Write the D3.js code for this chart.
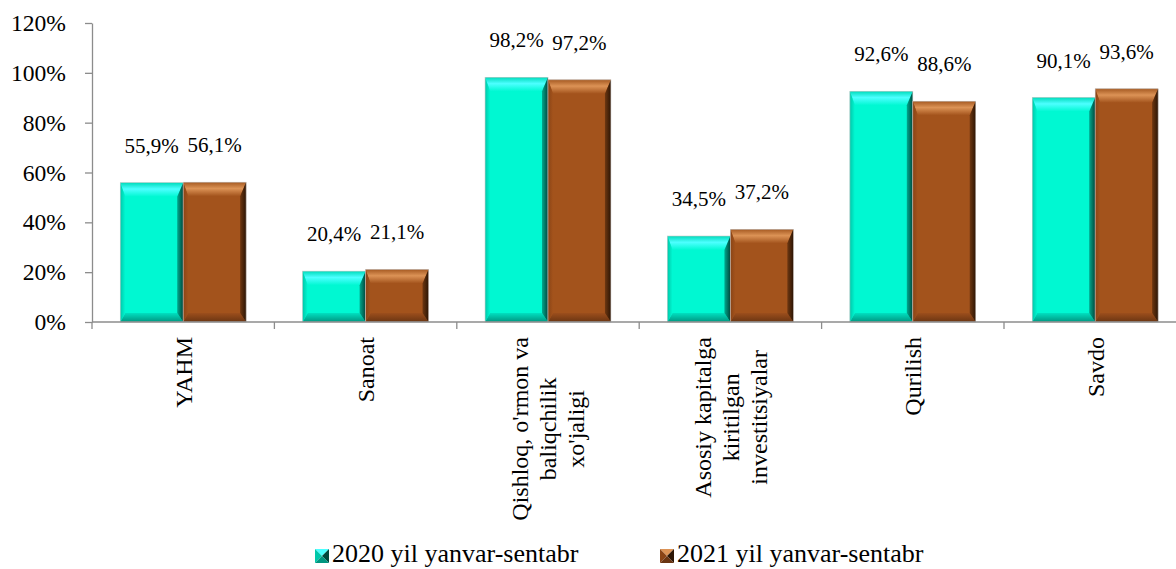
<!DOCTYPE html>
<html>
<head>
<meta charset="utf-8">
<script src="https://d3js.org/d3.v7.min.js"></script>
</head>
<body style="margin:0">
<svg id="chart" width="1176" height="569" font-family="Liberation Serif"></svg>
<script>
// data
var categories = ["YAHM", "Sanoat", "Qishloq, o'rmon va|baliqchilik|xo'jaligi",
                  "Asosiy kapitalga|kiritilgan|investitsiyalar", "Qurilish", "Savdo"];
var series = ["2020 yil yanvar-sentabr", "2021 yil yanvar-sentabr"];
var values2020 = [55.9, 20.4, 98.2, 34.5, 92.6, 90.1];
var values2021 = [56.1, 21.1, 97.2, 37.2, 88.6, 93.6];
var yTicks = [0, 20, 40, 60, 80, 100, 120];

// colours per series
var palettes = [
  {face: "#00f8d2", edge: "#00dcbc", hi: "#4dffff", left: "#00c8aa", right1: "#00a88e", right2: "#00483c", bot1: "#00e0c0", bot2: "#009680"},
  {face: "#a3531c", edge: "#a65a22", hi: "#dc9356", left: "#8a4416", right1: "#6e3711", right2: "#2c1504", bot1: "#9c4e1c", bot2: "#6a3512"}
];

var svg = d3.select("#chart");
var axisX0 = 92, axisY0 = 322, axisTop = 23, catW = 182.4;

var y = d3.scaleLinear().domain([0, 120]).range([axisY0, axisTop]);
var x0 = d3.scaleBand().domain(d3.range(categories.length))
  .range([axisX0, axisX0 + catW * categories.length]);
var x1 = d3.scaleBand().domain(d3.range(series.length))
  .range([x0.bandwidth() * 0.155, x0.bandwidth() * 0.845]);

var defs = svg.append("defs");
function grad(id, horiz, stops) {
  var g = defs.append("linearGradient").attr("id", id)
    .attr("x1", 0).attr("y1", 0).attr("x2", horiz ? 1 : 0).attr("y2", horiz ? 0 : 1);
  stops.forEach(function(s) { g.append("stop").attr("offset", s[0]).attr("stop-color", s[1]); });
}
palettes.forEach(function(p, i) {
  grad("top" + i, false, [["0%", p.edge], ["45%", p.hi], ["100%", p.face]]);
  grad("bot" + i, false, [["0%", p.bot1], ["100%", p.bot2]]);
  grad("left" + i, true, [["0%", p.left], ["100%", p.face]]);
  grad("right" + i, true, [["0%", p.right1], ["100%", p.right2]]);
});

// y axis
var yAxis = d3.axisLeft(y).tickValues(yTicks).tickFormat(function(d) { return d + "%"; })
  .tickSize(7).tickSizeOuter(0).tickPadding(19);
var ya = svg.append("g").attr("transform", "translate(" + axisX0 + ",0)").call(yAxis);
ya.attr("font-family", "Liberation Serif").attr("font-size", 23.6);
ya.selectAll("path, line").attr("stroke", "#8c8c8c").attr("stroke-width", 1.3);
ya.selectAll("text").attr("fill", "#000");

// bars
var rows = [values2020, values2021];
var bars = svg.append("g");
categories.forEach(function(c, ci) {
  rows.forEach(function(vals, si) {
    var p = palettes[si];
    var bx = x0(ci) + x1(si), bw = x1.bandwidth();
    var by = y(vals[ci]), bh = axisY0 - by;
    var t = 14, b = 9, l = 5, r = 6;
    var g = bars.append("g");
    var pts = function(a) { return a.map(function(q) { return q.join(","); }).join(" "); };
    var o = [[bx, by], [bx + bw, by], [bx + bw, by + bh], [bx, by + bh]];
    var n = [[bx + l, by + t], [bx + bw - r, by + t], [bx + bw - r, by + bh - b], [bx + l, by + bh - b]];
    g.append("rect").attr("x", bx).attr("y", by).attr("width", bw).attr("height", bh).attr("fill", p.face);
    g.append("polygon").attr("points", pts([o[0], o[1], n[1], n[0]])).attr("fill", "url(#top" + si + ")");
    g.append("polygon").attr("points", pts([o[3], n[3], n[2], o[2]])).attr("fill", "url(#bot" + si + ")");
    g.append("polygon").attr("points", pts([o[0], n[0], n[3], o[3]])).attr("fill", "url(#left" + si + ")");
    g.append("polygon").attr("points", pts([o[1], o[2], n[2], n[1]])).attr("fill", "url(#right" + si + ")");
    g.append("rect").attr("x", bx).attr("y", by).attr("width", bw).attr("height", bh)
      .attr("fill", "none").attr("stroke", "#c4c4c4").attr("stroke-width", 0.6);

    svg.append("text")
      .attr("x", bx + bw / 2).attr("y", by - 30)
      .attr("text-anchor", "middle")
      .attr("font-family", "Liberation Serif")
      .attr("font-size", 21)
      .text(vals[ci].toFixed(1).replace(".", ",") + "%");
  });
});

// x axis
var xg = svg.append("g");
xg.append("line").attr("x1", axisX0).attr("x2", 1176).attr("y1", axisY0).attr("y2", axisY0)
  .attr("stroke", "#8c8c8c").attr("stroke-width", 1.3);
d3.range(categories.length + 1).forEach(function(i) {
  var tx = axisX0 + i * x0.bandwidth();
  xg.append("line").attr("x1", tx).attr("x2", tx).attr("y1", axisY0).attr("y2", axisY0 + 7)
    .attr("stroke", "#8c8c8c").attr("stroke-width", 1.3);
});

// category labels, rotated
categories.forEach(function(c, ci) {
  var lines = c.split("|");
  var cx = x0(ci) + x0.bandwidth() / 2;
  var g = xg.append("g").attr("transform", "translate(" + cx + "," + (axisY0 + 15) + ") rotate(-90)");
  var texts = lines.map(function(s, li) {
    return g.append("text")
      .attr("y", (li - (lines.length - 1) / 2) * 28)
      .attr("dy", "0.35em")
      .attr("text-anchor", "middle")
      .attr("font-family", "Liberation Serif")
      .attr("font-size", 24)
      .text(s);
  });
  var maxW = d3.max(texts, function(t) { return t.node().getComputedTextLength(); });
  texts.forEach(function(t) { t.attr("x", -maxW / 2); });
});

// legend
var legX = [315, 660];
series.forEach(function(s, si) {
  var p = palettes[si];
  var lx = legX[si], ly = 549, sz = 14, c = [lx + sz / 2, ly + sz / 2];
  var lg = svg.append("g");
  var tri = function(a, col) {
    lg.append("polygon").attr("points", a.map(function(q) { return q.join(","); }).join(" ")).attr("fill", col);
  };
  tri([[lx, ly], [lx + sz, ly], c], p.hi);
  tri([[lx, ly], c, [lx, ly + sz]], p.left);
  tri([[lx + sz, ly], [lx + sz, ly + sz], c], p.right2);
  tri([[lx, ly + sz], c, [lx + sz, ly + sz]], p.bot2);
  svg.append("text").attr("x", lx + sz + 3).attr("y", 562)
    .attr("font-family", "Liberation Serif")
    .attr("font-size", 26).text(s);
});
</script>
</body>
</html>
